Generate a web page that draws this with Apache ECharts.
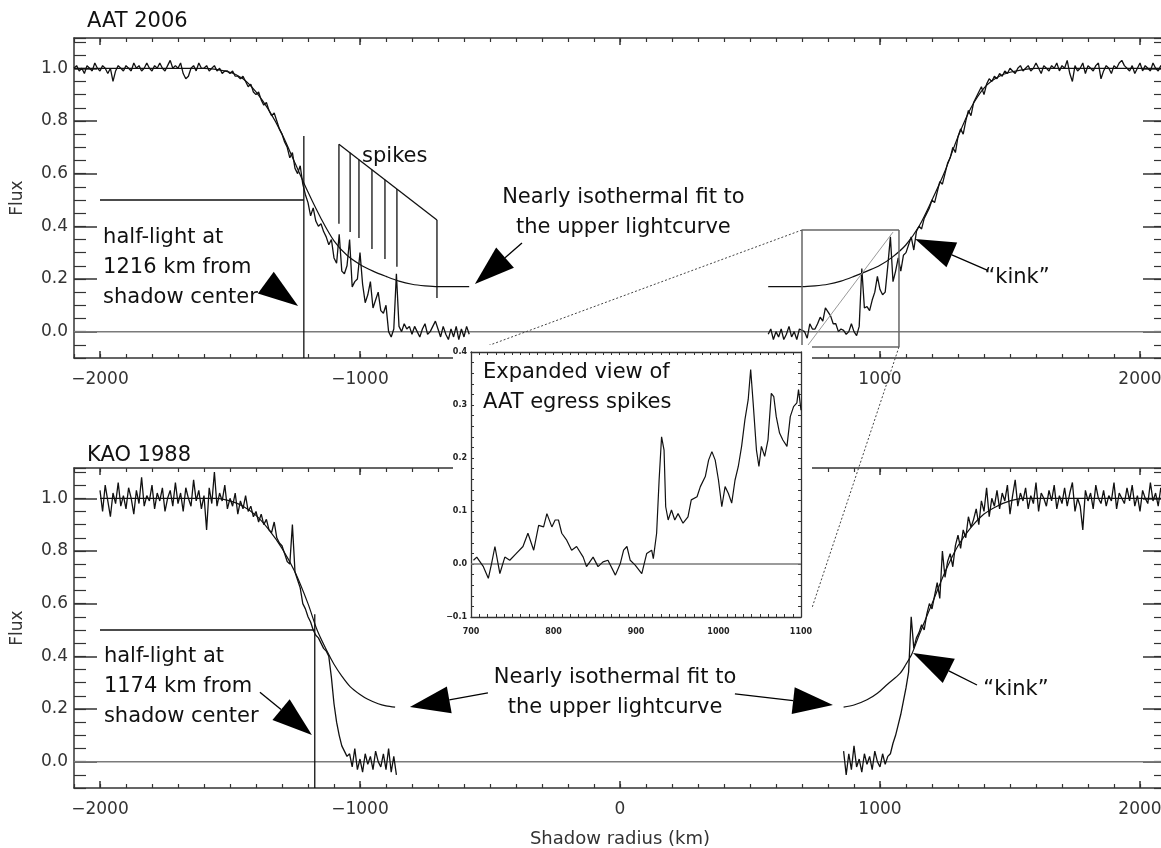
<!DOCTYPE html>
<html>
<head>
<meta charset="utf-8">
<title>AAT 2006 / KAO 1988 occultation light curves</title>
<script src="https://cdn.jsdelivr.net/npm/echarts@6.0.0/dist/echarts.min.js"></script>
<style>
  html, body { margin: 0; padding: 0; background: #fff; }
  #chart { width: 1161px; height: 848px; }
</style>
</head>
<body>
<div id="chart"></div>
<script>
// light curves, sampled every STEP km of shadow radius
const STEP = 10;

const aatIngressStart = -2100;
const aatIngressFlux = [
  1.00, 1.01, 0.99, 1.00, 0.98, 1.01, 1.00, 0.99, 1.02, 1.00,
  0.99, 1.01, 1.00, 0.98, 1.00, 0.95, 0.99, 1.01, 1.00, 0.99,
  1.01, 1.00, 0.99, 1.02, 1.00, 1.01, 0.99, 1.00, 1.02, 1.00,
  0.99, 1.01, 1.00, 1.02, 1.00, 0.99, 1.01, 1.03, 1.00, 1.01,
  1.00, 1.02, 0.98, 0.96, 0.97, 1.00, 1.01, 0.99, 1.02, 1.00,
  1.00, 1.01, 0.99, 1.00, 1.01, 0.99, 1.00, 0.98, 0.99, 0.99,
  0.98, 0.99, 0.97, 0.97, 0.96, 0.97, 0.95, 0.93, 0.94, 0.91,
  0.90, 0.91, 0.88, 0.86, 0.87, 0.84, 0.82, 0.83, 0.80, 0.77,
  0.75, 0.72, 0.70, 0.66, 0.68, 0.62, 0.60, 0.63, 0.56, 0.52,
  0.49, 0.44, 0.47, 0.42, 0.40, 0.41, 0.38, 0.36, 0.33, 0.35,
  0.28, 0.26, 0.37, 0.23, 0.22, 0.25, 0.35, 0.17, 0.19, 0.20,
  0.30, 0.18, 0.11, 0.14, 0.19, 0.09, 0.12, 0.15, 0.08, 0.07,
  0.10, 0.00, -0.02, 0.01, 0.22, 0.02, 0.00, 0.03, 0.01, 0.02,
  -0.01, 0.02, 0.00, -0.02, 0.01, 0.03, -0.01, 0.00, 0.02, 0.04,
  0.01, -0.02, 0.02, -0.01, -0.03, 0.01, -0.02, 0.02, -0.03, 0.01,
  -0.02, 0.02, -0.01
];

const aatEgressStart = 570;
const aatEgressFlux = [
  -0.01, 0.01, -0.03, 0.00, -0.02, 0.01, -0.03, -0.01, 0.02, -0.02,
  0.00, -0.03, 0.01, 0.005, 0.00, -0.025, 0.03, 0.01, 0.01, 0.03,
  0.055, 0.04, 0.09, 0.075, 0.06, 0.03, 0.03, 0.00, 0.01, 0.005,
  -0.01, 0.00, 0.03, 0.00, -0.015, 0.02, 0.24, 0.09, 0.095, 0.08,
  0.12, 0.15, 0.21, 0.16, 0.14, 0.15, 0.25, 0.36, 0.19, 0.23,
  0.28, 0.23, 0.29, 0.30, 0.33, 0.36, 0.31, 0.38, 0.40, 0.39,
  0.43, 0.45, 0.47, 0.50, 0.49, 0.53, 0.57, 0.56, 0.60, 0.64,
  0.66, 0.70, 0.68, 0.74, 0.77, 0.75, 0.80, 0.84, 0.82, 0.87,
  0.89, 0.91, 0.93, 0.90, 0.94, 0.96, 0.95, 0.97, 0.96, 0.98,
  0.97, 0.99, 0.98, 1.00, 0.99, 0.98, 1.00, 1.01, 0.99, 1.00,
  1.01, 0.99, 1.00, 1.02, 1.00, 0.98, 1.01, 1.00, 0.99, 1.01,
  1.00, 1.02, 0.99, 1.01, 1.00, 1.03, 0.98, 0.95, 1.01, 0.99,
  1.00, 1.02, 0.98, 1.01, 1.00, 0.99, 1.01, 1.02, 0.96, 0.99,
  1.01, 1.00, 0.98, 1.01, 1.00, 1.02, 1.03, 1.01, 1.00, 0.99,
  1.01, 0.98, 1.00, 1.02, 0.99, 1.01, 1.00, 0.99, 1.02, 1.00,
  0.99, 1.01, 1.00, 1.01
];

const kaoIngressStart = -2000;
const kaoIngressFlux = [
  1.03, 0.95, 1.05, 0.99, 0.93, 1.02, 0.98, 1.06, 0.97, 1.01,
  0.96, 1.04, 1.00, 0.94, 1.03, 0.98, 1.08, 0.97, 1.01, 0.99,
  1.05, 0.96, 1.02, 0.99, 1.04, 0.95, 1.00, 1.03, 0.97, 1.06,
  0.98, 1.02, 0.95, 1.04, 1.00, 0.97, 1.07, 0.99, 1.03, 0.96,
  1.01, 0.88, 1.04, 0.98, 1.10, 0.97, 1.02, 0.99, 1.05, 0.96,
  1.00, 0.97, 1.02, 0.94, 0.99, 0.96, 1.01, 0.95, 0.97, 0.93,
  0.95, 0.91, 0.94, 0.90, 0.92, 0.88, 0.87, 0.91, 0.85, 0.83,
  0.82, 0.79, 0.76, 0.75, 0.90, 0.72, 0.69, 0.66, 0.60, 0.58,
  0.55, 0.53, 0.50, 0.48, 0.47, 0.45, 0.43, 0.42, 0.40, 0.32,
  0.22, 0.15, 0.10, 0.06, 0.04, 0.02, 0.03, -0.02, 0.05, -0.03,
  0.01, -0.04, 0.03, -0.01, 0.02, -0.03, 0.04, 0.00, -0.02, 0.03,
  -0.03, 0.05, -0.04, 0.02, -0.05
];

const kaoEgressStart = 860;
const kaoEgressFlux = [
  0.04, -0.05, 0.03, -0.03, 0.06, -0.02, 0.01, -0.04, 0.03, -0.01,
  0.02, -0.03, 0.04, 0.00, -0.02, 0.03, -0.01, 0.02, 0.03, 0.07,
  0.10, 0.14, 0.18, 0.23, 0.28, 0.34, 0.55, 0.43, 0.47, 0.49,
  0.52, 0.50, 0.56, 0.60, 0.58, 0.63, 0.68, 0.62, 0.80, 0.70,
  0.76, 0.79, 0.74, 0.82, 0.86, 0.81, 0.88, 0.85, 0.93, 0.89,
  0.92, 0.96, 0.90, 0.99, 0.95, 1.04, 0.93, 1.00, 0.97, 1.03,
  0.96, 1.02, 0.99, 1.05, 0.94, 1.01, 1.07, 0.97, 1.02, 0.99,
  1.04, 0.96, 1.01, 0.98, 1.06, 0.95, 1.02, 1.00, 0.97, 1.03,
  0.99, 1.05, 0.96, 1.01, 0.98, 1.04, 0.97, 1.02, 1.06, 0.95,
  1.00, 0.97, 0.88, 1.03, 0.99, 1.02, 0.96, 1.05, 1.00, 0.98,
  1.03, 0.97, 1.01, 0.99, 1.06, 0.96, 1.02, 1.00, 0.98, 1.04,
  0.99, 1.05, 0.97, 1.01, 0.95, 1.03, 1.00, 0.98, 1.06, 0.99,
  1.02, 0.97, 1.04, 0.99, 1.03
];

// nearly isothermal model fits
const aatFitInRadius = [-2100, -1600, -1500, -1450, -1400, -1350, -1300, -1250, -1200, -1150, -1100, -1050, -1000, -950, -900, -850, -800, -750, -700, -580];
const aatFitInFlux = [1.0, 1.0, 0.985, 0.96, 0.91, 0.84, 0.75, 0.64, 0.53, 0.43, 0.345, 0.29, 0.255, 0.23, 0.21, 0.192, 0.18, 0.174, 0.171, 0.171];
const aatFitOutRadius = [570, 700, 750, 800, 850, 900, 950, 1000, 1050, 1100, 1150, 1200, 1250, 1300, 1350, 1400, 1450, 1500, 1600, 2100];
const aatFitOutFlux = [0.171, 0.171, 0.174, 0.18, 0.192, 0.21, 0.23, 0.252, 0.285, 0.33, 0.40, 0.50, 0.61, 0.74, 0.85, 0.925, 0.965, 0.985, 1.0, 1.0];
const kaoFitInRadius = [-2000, -1550, -1500, -1450, -1400, -1350, -1300, -1250, -1200, -1165, -1127, -1100, -1070, -1038, -1000, -970, -930, -900, -865];
const kaoFitInFlux = [1.0, 1.0, 0.99, 0.97, 0.935, 0.88, 0.81, 0.72, 0.60, 0.50, 0.42, 0.37, 0.325, 0.285, 0.255, 0.237, 0.22, 0.212, 0.207];
const kaoFitOutRadius = [860, 900, 950, 990, 1030, 1077, 1100, 1123, 1150, 1200, 1250, 1300, 1350, 1400, 1450, 1500, 1550, 2100];
const kaoFitOutFlux = [0.207, 0.215, 0.235, 0.26, 0.295, 0.335, 0.37, 0.41, 0.48, 0.60, 0.72, 0.82, 0.89, 0.94, 0.97, 0.99, 1.0, 1.0];

// expanded view of the AAT egress spikes
const insetRadius = [703, 707, 715, 721, 725, 729, 735, 741, 747, 755, 763, 769, 776, 782, 788, 792, 798, 802, 806, 810,
  816, 822, 828, 836, 840, 848, 854, 860, 866, 875, 881, 885, 889, 893, 899, 907, 913, 919, 921, 925,
  928, 931, 934, 936, 939, 943, 947, 951, 957, 963, 967, 974, 978, 984, 988, 992, 996, 1000, 1004, 1008,
  1012, 1016, 1020, 1024, 1028, 1032, 1036, 1039, 1042, 1046, 1049, 1052, 1056, 1060, 1064, 1067, 1070, 1074, 1078, 1083,
  1087, 1091, 1095, 1097, 1100];
const insetFlux = [0.007, 0.013, -0.005, -0.027, 0.001, 0.033, -0.018, 0.013, 0.007, 0.02, 0.033, 0.058, 0.026, 0.073, 0.07, 0.095, 0.07, 0.083, 0.083, 0.058,
  0.045, 0.026, 0.033, 0.013, -0.005, 0.013, -0.005, 0.004, 0.007, -0.021, 0.001, 0.026, 0.033, 0.007, -0.002, -0.018, 0.02, 0.026, 0.01, 0.058,
  0.158, 0.24, 0.215, 0.108, 0.083, 0.102, 0.083, 0.095, 0.077, 0.089, 0.121, 0.127, 0.146, 0.165, 0.196, 0.212, 0.196, 0.158, 0.108, 0.146,
  0.133, 0.115, 0.158, 0.184, 0.222, 0.272, 0.31, 0.367, 0.304, 0.215, 0.184, 0.222, 0.203, 0.234, 0.322, 0.316, 0.278, 0.247, 0.234, 0.222,
  0.278, 0.297, 0.304, 0.329, 0.29];

// half-light markers [x1, y1, x2, y2]
const aatHalfLight = [[-2000, 0.5, -1216, 0.5], [-1216, 0.743, -1216, -0.1]];
const kaoHalfLight = [[-2000, 0.5, -1174, 0.5], [-1174, 0.56, -1174, -0.1]];

// "spikes" pointer lines
const spikeRadius = [-1081, -1038, -1004, -954, -904, -858, -704];
const spikeTop = [0.712, 0.679, 0.653, 0.615, 0.577, 0.542, 0.424];
const spikeBottom = [0.41, 0.378, 0.356, 0.314, 0.276, 0.246, 0.128];

// box around the egress spikes shown in the inset
const zoomBoxRadius = [700, 1073];
const zoomBoxFlux = [-0.058, 0.386];
const zoomBoxDiagonal = [723, -0.051, 1050, 0.378];
// inset points the dotted leaders aim at
const leaderTargets = [[700, 0.4], [1100, -0.145]];

// arrows [tipX, tipY, tailX, tailY]
const aatArrows = [[-1238, 0.097, -1363, 0.187], [-558, 0.181, -377, 0.337], [1135, 0.352, 1412, 0.234]];
const kaoArrows = [[-1185, 0.101, -1385, 0.264], [-808, 0.2075, -508, 0.261], [819, 0.215, 442, 0.257], [1127, 0.4125, 1373, 0.291]];

// annotation texts
const aatNoteText = ['half-light at\n1216 km from\nshadow center', 'spikes', 'Nearly isothermal fit to\nthe upper lightcurve', '\u201ckink\u201d'];
const aatNoteRadius = [-1988, -992, 13, 1527];
const aatNoteFlux = [0.242, 0.663, 0.452, 0.204];
const aatNoteAlign = ['left', 'left', 'center', 'center'];
const kaoNoteText = ['half-light at\n1174 km from\nshadow center', 'Nearly isothermal fit to\nthe upper lightcurve', '\u201ckink\u201d'];
const kaoNoteRadius = [-1985, -19, 1523];
const kaoNoteFlux = [0.287, 0.263, 0.272];
const kaoNoteAlign = ['left', 'center', 'center'];
const insetNoteText = ['Expanded view of\nAAT egress spikes'];
const insetNoteRadius = [714.5];
const insetNoteFlux = [0.332];

const radiusMajors = [-2000, -1000, 0, 1000, 2000];
const fluxMajors = [0, 0.2, 0.4, 0.6, 0.8, 1.0];

const AXIS_COLOR = '#333';
const AXIS_FONT = 'DejaVu Sans';
const NOTE_FONT = 'DejaVu Sans';
const HEAD_LEN = 40;
const HEAD_W = 27;

function samples(start, flux) {
  return flux.map((f, i) => [start + i * STEP, f]);
}
function pairs(xs, ys) {
  return xs.map((x, i) => [x, ys[i]]);
}
function signed(text, negative) {
  return negative ? '\u2212' + text : text;
}

const lineStyle = { color: AXIS_COLOR, width: 1.5 };

function radiusAxis(gridIndex, position, extra) {
  return Object.assign({
    type: 'value', gridIndex, position, min: -2100, max: 2100, interval: 100,
    axisLine: { show: true, onZero: false, lineStyle },
    axisTick: { show: true, inside: true, length: 4, lineStyle: { color: AXIS_COLOR, width: 1.2 } },
    axisLabel: { show: false },
    splitLine: { show: false }
  }, extra || {});
}
function radiusMajorAxis(gridIndex, position) {
  return {
    type: 'value', gridIndex, position, min: -2100, max: 2100,
    axisLine: { show: false, onZero: false },
    axisTick: { show: true, inside: true, length: 7, customValues: radiusMajors, lineStyle: { color: AXIS_COLOR, width: 1.5 } },
    axisLabel: { show: false },
    splitLine: { show: false }
  };
}
function fluxAxis(gridIndex, position, extra) {
  return Object.assign({
    type: 'value', gridIndex, position, min: -0.1, max: 1.115, interval: 0.05,
    axisLine: { show: true, onZero: false, lineStyle },
    axisTick: { show: true, inside: true, length: 12, lineStyle: { color: AXIS_COLOR, width: 1.2 } },
    axisLabel: { show: false },
    splitLine: { show: false }
  }, extra || {});
}
function fluxMajorAxis(gridIndex, position) {
  return {
    type: 'value', gridIndex, position, min: -0.1, max: 1.115,
    axisLine: { show: false, onZero: false },
    axisTick: { show: true, inside: true, length: 23, customValues: fluxMajors, lineStyle: { color: AXIS_COLOR, width: 1.5 } },
    axisLabel: { show: false },
    splitLine: { show: false }
  };
}

const radiusLabel = {
  show: true, margin: 13, color: '#333', fontFamily: AXIS_FONT, fontSize: 17,
  formatter: v => (v % 1000 === 0 ? signed(String(Math.abs(v)), v < 0) : '')
};
const fluxLabel = {
  show: true, margin: 6, color: '#333', fontFamily: AXIS_FONT, fontSize: 17,
  formatter: v => {
    const k = Math.round(v * 5);
    return Math.abs(v * 5 - k) < 1e-6 ? (k / 5).toFixed(1) : '';
  }
};
const nameStyle = { color: '#333', fontFamily: AXIS_FONT, fontSize: 17 };

function insetAxisX(position, labels) {
  return {
    type: 'value', gridIndex: 5, position, min: 700, max: 1100, interval: 10, z: 12,
    axisLine: { show: true, onZero: false, lineStyle: { color: AXIS_COLOR, width: 1.3 } },
    axisTick: { show: true, inside: true, length: 3, lineStyle: { color: AXIS_COLOR, width: 1 } },
    axisLabel: labels ? {
      show: true, margin: 11, color: '#222', fontFamily: AXIS_FONT, fontSize: 8, fontWeight: 'bold',
      formatter: v => (v % 100 === 0 ? String(v) : '')
    } : { show: false },
    splitLine: { show: false }
  };
}
function insetAxisY(position, labels) {
  return {
    type: 'value', gridIndex: 5, position, min: -0.1, max: 0.4, interval: 0.02, z: 12,
    axisLine: { show: true, onZero: false, lineStyle: { color: AXIS_COLOR, width: 1.3 } },
    axisTick: { show: true, inside: true, length: 3, lineStyle: { color: AXIS_COLOR, width: 1 } },
    axisLabel: labels ? {
      show: true, margin: 4, color: '#222', fontFamily: AXIS_FONT, fontSize: 8, fontWeight: 'bold',
      formatter: v => {
        const k = Math.round(v * 10);
        return Math.abs(v * 10 - k) < 1e-6 ? signed(Math.abs(k / 10).toFixed(1), k < 0) : '';
      }
    } : { show: false },
    splitLine: { show: false }
  };
}

function trace(id, xi, yi, data, smooth, z, width) {
  return {
    id, type: 'line', xAxisIndex: xi, yAxisIndex: yi, data,
    showSymbol: false, symbol: 'none', smooth: smooth || false,
    lineStyle: { color: '#111', width: width || 1.3 }, z: z || 2, silent: true
  };
}
function zeroLine(xi, yi, xs, z) {
  return {
    type: 'line', xAxisIndex: xi, yAxisIndex: yi, data: [[xs[0], 0], [xs[1], 0]],
    showSymbol: false, symbol: 'none', lineStyle: { color: '#7a7a7a', width: 1.5 }, z: z || 1, silent: true
  };
}
function segments(xi, yi, rows, color, width) {
  return {
    type: 'custom', coordinateSystem: 'cartesian2d', xAxisIndex: xi, yAxisIndex: yi,
    data: rows, encode: { x: [0, 2], y: [1, 3] }, clip: false, silent: true, z: 3,
    renderItem: (params, api) => {
      const a = api.coord([api.value(0), api.value(1)]);
      const b = api.coord([api.value(2), api.value(3)]);
      return {
        type: 'line', shape: { x1: a[0], y1: a[1], x2: b[0], y2: b[1] },
        style: { stroke: color, lineWidth: width }
      };
    }
  };
}
function arrows(xi, yi, rows) {
  return {
    type: 'custom', coordinateSystem: 'cartesian2d', xAxisIndex: xi, yAxisIndex: yi,
    data: rows, encode: { x: [0, 2], y: [1, 3] }, clip: false, silent: true, z: 4,
    renderItem: (params, api) => {
      const tip = api.coord([api.value(0), api.value(1)]);
      const tail = api.coord([api.value(2), api.value(3)]);
      const dx = tip[0] - tail[0], dy = tip[1] - tail[1];
      const len = Math.hypot(dx, dy) || 1;
      const ux = dx / len, uy = dy / len;
      const bx = tip[0] - ux * HEAD_LEN, by = tip[1] - uy * HEAD_LEN;
      const hw = HEAD_W / 2;
      const children = [{
        type: 'polygon',
        shape: { points: [tip, [bx - uy * hw, by + ux * hw], [bx + uy * hw, by - ux * hw]] },
        style: { fill: '#000' }
      }];
      if (len > HEAD_LEN + 1) {
        children.push({ type: 'line', shape: { x1: tail[0], y1: tail[1], x2: bx, y2: by }, style: { stroke: '#000', lineWidth: 1.3 } });
      }
      return { type: 'group', children };
    }
  };
}
function notes(xi, yi, xs, ys, texts, aligns, z) {
  return {
    type: 'custom', coordinateSystem: 'cartesian2d', xAxisIndex: xi, yAxisIndex: yi,
    data: pairs(xs, ys), clip: false, silent: true, z: z || 4,
    renderItem: (params, api) => {
      const p = api.coord([api.value(0), api.value(1)]);
      return {
        type: 'text', x: p[0], y: p[1],
        style: {
          text: texts[params.dataIndex], fontFamily: NOTE_FONT, fontSize: 21, fill: '#111',
          align: aligns[params.dataIndex], verticalAlign: 'middle', lineHeight: 30
        }
      };
    }
  };
}

const boxRows = [
  [zoomBoxRadius[0], zoomBoxFlux[0], zoomBoxRadius[0], zoomBoxFlux[1]],
  [zoomBoxRadius[0], zoomBoxFlux[1], zoomBoxRadius[1], zoomBoxFlux[1]],
  [zoomBoxRadius[1], zoomBoxFlux[1], zoomBoxRadius[1], zoomBoxFlux[0]],
  [zoomBoxRadius[1], zoomBoxFlux[0], zoomBoxRadius[0], zoomBoxFlux[0]]
];
const spikeRows = spikeRadius.map((x, i) => [x, spikeTop[i], x, spikeBottom[i]]);
spikeRows.push([spikeRadius[0], spikeTop[0], spikeRadius[spikeRadius.length - 1], spikeTop[spikeTop.length - 1]]);

const mainGrid = { left: 74, width: 1092, height: 320, outerBoundsMode: 'none', containLabel: false };
const titleStyle = { fontFamily: NOTE_FONT, fontSize: 21, fontWeight: 'normal', color: '#111' };

const option = {
  animation: false,
  backgroundColor: '#fff',
  title: [
    { text: 'AAT 2006', left: 82, top: 6, textStyle: titleStyle },
    { text: 'KAO 1988', left: 82, top: 440, textStyle: titleStyle }
  ],
  grid: [
    Object.assign({ top: 38 }, mainGrid),
    Object.assign({ top: 38 }, mainGrid),
    Object.assign({ top: 468 }, mainGrid),
    Object.assign({ top: 468 }, mainGrid),
    { left: 453, top: 345, width: 359, height: 300, show: true, backgroundColor: '#fff', borderWidth: 0, z: 10, outerBoundsMode: 'none' },
    { left: 471, top: 352, width: 330, height: 265, z: 11, outerBoundsMode: 'none' }
  ],
  xAxis: [
    radiusAxis(0, 'bottom', { axisLabel: radiusLabel }),
    radiusAxis(0, 'top'),
    radiusMajorAxis(1, 'bottom'),
    radiusMajorAxis(1, 'top'),
    radiusAxis(2, 'bottom', {
      axisLabel: radiusLabel, name: 'Shadow radius (km)', nameLocation: 'middle', nameGap: 42,
      nameTextStyle: Object.assign({}, nameStyle, { fontSize: 18 })
    }),
    radiusAxis(2, 'top'),
    radiusMajorAxis(3, 'bottom'),
    radiusMajorAxis(3, 'top'),
    insetAxisX('bottom', true),
    insetAxisX('top', false)
  ],
  yAxis: [
    fluxAxis(0, 'left', { axisLabel: fluxLabel, name: 'Flux', nameLocation: 'middle', nameGap: 48, nameTextStyle: nameStyle }),
    fluxAxis(0, 'right'),
    fluxMajorAxis(1, 'left'),
    fluxMajorAxis(1, 'right'),
    fluxAxis(2, 'left', { axisLabel: fluxLabel, name: 'Flux', nameLocation: 'middle', nameGap: 48, nameTextStyle: nameStyle }),
    fluxAxis(2, 'right'),
    fluxMajorAxis(3, 'left'),
    fluxMajorAxis(3, 'right'),
    insetAxisY('left', true),
    insetAxisY('right', false)
  ],
  series: [
    // AAT 2006
    zeroLine(0, 0, [-2100, 2100]),
    trace('aatIngress', 0, 0, samples(aatIngressStart, aatIngressFlux)),
    trace('aatEgress', 0, 0, samples(aatEgressStart, aatEgressFlux)),
    trace('aatFitIn', 0, 0, pairs(aatFitInRadius, aatFitInFlux), 0.3, 2, 1.2),
    trace('aatFitOut', 0, 0, pairs(aatFitOutRadius, aatFitOutFlux), 0.3, 2, 1.2),
    segments(0, 0, aatHalfLight, '#111', 1.3),
    segments(0, 0, spikeRows, '#111', 1.3),
    segments(0, 0, boxRows, '#666', 1.5),
    segments(0, 0, [zoomBoxDiagonal], '#9a9a9a', 1),
    arrows(0, 0, aatArrows),
    notes(0, 0, aatNoteRadius, aatNoteFlux, aatNoteText, aatNoteAlign),
    // KAO 1988
    zeroLine(4, 4, [-2100, 2100]),
    trace('kaoIngress', 4, 4, samples(kaoIngressStart, kaoIngressFlux)),
    trace('kaoEgress', 4, 4, samples(kaoEgressStart, kaoEgressFlux)),
    trace('kaoFitIn', 4, 4, pairs(kaoFitInRadius, kaoFitInFlux), 0.3, 2, 1.2),
    trace('kaoFitOut', 4, 4, pairs(kaoFitOutRadius, kaoFitOutFlux), 0.3, 2, 1.2),
    segments(4, 4, kaoHalfLight, '#111', 1.3),
    arrows(4, 4, kaoArrows),
    notes(4, 4, kaoNoteRadius, kaoNoteFlux, kaoNoteText, kaoNoteAlign),
    // inset
    zeroLine(8, 8, [700, 1100], 12),
    trace('inset', 8, 8, pairs(insetRadius, insetFlux), false, 13, 1.2),
    notes(8, 8, insetNoteRadius, insetNoteFlux, insetNoteText, ['left'], 13)
  ]
};

const chart = echarts.init(document.getElementById('chart'));
chart.setOption(option);

// dotted leaders from the zoom box to the inset (drawn under the inset's white panel)
const boxTopLeft = chart.convertToPixel({ seriesId: 'aatEgress' }, [zoomBoxRadius[0], zoomBoxFlux[1]]);
const boxBottomRight = chart.convertToPixel({ seriesId: 'aatEgress' }, [zoomBoxRadius[1], zoomBoxFlux[0]]);
const insetA = chart.convertToPixel({ seriesId: 'inset' }, leaderTargets[0]);
const insetB = chart.convertToPixel({ seriesId: 'inset' }, leaderTargets[1]);
const leaderStyle = { stroke: '#444', lineWidth: 1, lineDash: [2, 2] };
chart.setOption({
  graphic: [
    { type: 'line', z: 5, silent: true, shape: { x1: boxTopLeft[0], y1: boxTopLeft[1], x2: insetA[0], y2: insetA[1] }, style: leaderStyle },
    { type: 'line', z: 5, silent: true, shape: { x1: boxBottomRight[0], y1: boxBottomRight[1], x2: insetB[0], y2: insetB[1] }, style: leaderStyle }
  ]
});
</script>
</body>
</html>
